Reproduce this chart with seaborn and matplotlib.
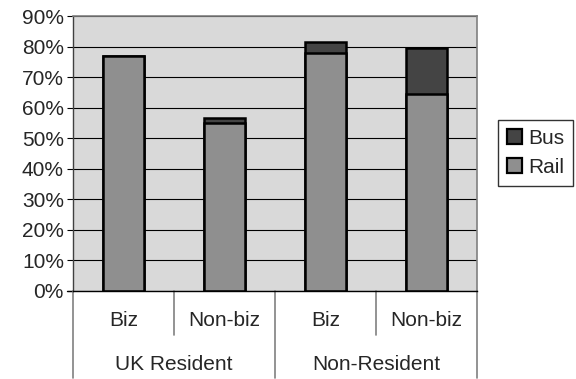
import matplotlib
matplotlib.use("Agg")
import matplotlib.pyplot as plt
import matplotlib.transforms as mtransforms
from matplotlib.patches import Patch
import seaborn as sns
import pandas as pd

# ---- data ----
groups = ["UK Resident", "UK Resident", "Non-Resident", "Non-Resident"]
purposes = ["Biz", "Non-biz", "Biz", "Non-biz"]
rail = [77.0, 55.0, 78.0, 64.5]
bus = [0.0, 1.5, 3.5, 15.0]
group_labels = ["UK Resident", "Non-Resident"]
yticks = [0, 10, 20, 30, 40, 50, 60, 70, 80, 90]

keys = [f"{g}|{p}" for g, p in zip(groups, purposes)]
df = pd.DataFrame({"key": keys, "group": groups, "purpose": purposes,
                   "Rail": rail, "Bus": bus})
df["Total"] = df["Rail"] + df["Bus"]

sns.set_style("white")
plt.rcParams["font.family"] = ["Liberation Sans", "DejaVu Sans"]

W, H = 576, 379
fig = plt.figure(figsize=(W / 100, H / 100), dpi=100)
fig.patch.set_facecolor("white")
L, R, T, B = 73, 477, 16, 291
ax = fig.add_axes([L / W, 1 - B / H, (R - L) / W, (B - T) / H])

rail_c = "#8F8F8F"
bus_c = "#444444"
bg_c = "#D9D9D9"
fs = 15

ax.set_facecolor(bg_c)
sns.barplot(data=df, x="key", y="Total", order=keys, color=bus_c, saturation=1,
            width=0.41, edgecolor="black", linewidth=1.8, ax=ax, errorbar=None)
sns.barplot(data=df, x="key", y="Rail", order=keys, color=rail_c, saturation=1,
            width=0.41, edgecolor="black", linewidth=1.8, ax=ax, errorbar=None)

ax.set_xlim(-0.5, 3.5)
ax.set_ylim(0, 90)
ax.set_yticks(yticks)
ax.set_yticklabels([f"{v}%" for v in yticks], fontsize=fs)
ax.yaxis.grid(True, color="black", linewidth=0.8)
ax.set_axisbelow(True)
ax.set_xlabel("")
ax.set_ylabel("")
ax.set_xticks([])
ax.tick_params(axis="y", direction="out", length=4.5, width=0.8, color="black",
               pad=2, left=True)
for s in ["top", "right"]:
    ax.spines[s].set_color("#808080")
    ax.spines[s].set_linewidth(1.2)
ax.spines["left"].set_color("#404040")
ax.spines["left"].set_linewidth(1.0)
ax.spines["bottom"].set_color("black")
ax.spines["bottom"].set_linewidth(1.0)

# multi-level category axis
trans = mtransforms.blended_transform_factory(ax.transData, fig.transFigure)
def fy(px):
    return 1 - px / H

# bottom axis line extension to the left
ax.plot([-0.5 - 6 / 101, -0.5], [0, 0], color="black", lw=1.0, clip_on=False,
        transform=ax.transData)

for i in range(len(keys) + 1):
    xpos = i - 0.5
    outer = (i % 2 == 0)
    y_end = 378 if outer else 335
    ax.plot([xpos, xpos], [fy(B), fy(y_end)], color="#808080", lw=1.2,
            transform=trans, clip_on=False)

for i, p in enumerate(purposes):
    ax.text(i, fy(321), p, transform=trans, ha="center", va="center", fontsize=fs)
for j, g in enumerate(group_labels):
    ax.text(2 * j + 0.5, fy(364), g, transform=trans, ha="center", va="center",
            fontsize=fs)

# legend
handles = [Patch(facecolor=bus_c, edgecolor="black", linewidth=1.6, label="Bus"),
           Patch(facecolor=rail_c, edgecolor="black", linewidth=1.6, label="Rail")]
leg = fig.legend(handles=handles, loc="upper left",
                 bbox_to_anchor=(498 / W, 1 - 120 / H), fontsize=fs,
                 frameon=True, fancybox=False, shadow=False,
                 handlelength=0.72, handleheight=0.72, handletextpad=0.3,
                 borderpad=0.42, labelspacing=0.5, borderaxespad=0)
leg.get_frame().set_edgecolor("black")
leg.get_frame().set_linewidth(1.0)

fig.savefig("out.png", dpi=100, facecolor="white")
